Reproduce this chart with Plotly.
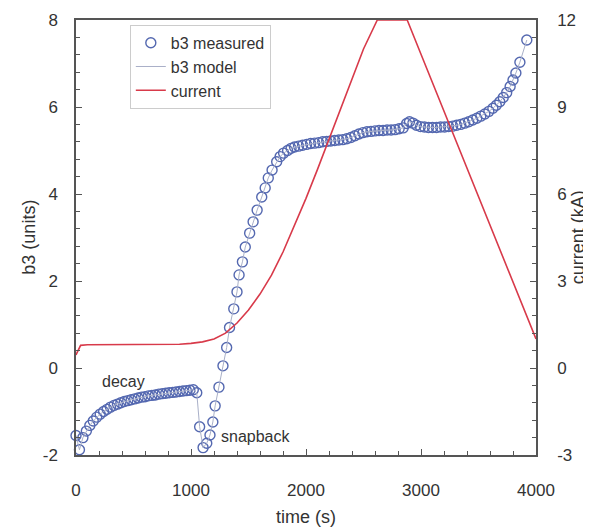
import plotly.graph_objects as go

# ---- data ----
t_meas = [0, 30, 60, 90, 120, 150, 180, 210, 240, 270, 300, 330, 360, 390, 420, 450, 480, 510,
          540, 570, 600, 630, 660, 690, 720, 750, 780, 810, 840, 870, 900, 930, 960, 990, 1020, 1050,
          1075, 1105, 1137, 1165, 1190, 1210, 1243, 1278, 1310, 1335, 1372, 1400, 1418, 1447, 1472,
          1510, 1540, 1575, 1615, 1645, 1672, 1705, 1745, 1775, 1805,
          1840, 1870, 1900, 1935, 1970, 2005, 2040, 2075, 2110, 2145, 2180, 2215, 2250, 2285, 2320,
          2355, 2390, 2425, 2460, 2495, 2530, 2565, 2600, 2635, 2670, 2705, 2740, 2775, 2810, 2845,
          2875, 2900, 2930, 2960, 2995, 3030, 3065, 3100, 3135, 3170, 3205, 3240, 3275, 3310, 3345,
          3380, 3415, 3450, 3485, 3520, 3555, 3590, 3625, 3655, 3685, 3715, 3745, 3775, 3800, 3825,
          3860, 3920]
b3_meas = [-1.55, -1.88, -1.6, -1.45, -1.32, -1.22, -1.13, -1.06, -1.0, -0.95, -0.9, -0.86, -0.83,
           -0.8, -0.77, -0.75, -0.73, -0.71, -0.69, -0.67, -0.66, -0.64, -0.63, -0.62, -0.6, -0.59,
           -0.58, -0.57, -0.56, -0.55, -0.54, -0.53, -0.52, -0.51, -0.5, -0.57,
           -1.35, -1.83, -1.73, -1.54, -1.24, -0.87, -0.44, 0.05, 0.47, 0.93, 1.36, 1.75, 2.14, 2.44,
           2.78, 3.1, 3.36, 3.63, 3.93, 4.14, 4.37, 4.55, 4.74, 4.86, 4.94,
           5.0, 5.05, 5.08, 5.1, 5.12, 5.14, 5.16, 5.17, 5.18, 5.2, 5.21, 5.22, 5.23, 5.24, 5.25,
           5.27, 5.3, 5.34, 5.38, 5.41, 5.43, 5.44, 5.45, 5.46, 5.46, 5.47, 5.47, 5.48, 5.5, 5.52,
           5.62, 5.66, 5.63, 5.58, 5.55, 5.54, 5.53, 5.53, 5.53, 5.54, 5.54, 5.55, 5.56, 5.58, 5.6,
           5.63, 5.66, 5.7, 5.74, 5.79, 5.84, 5.9, 5.97, 6.04, 6.12, 6.22, 6.33, 6.47, 6.62, 6.78,
           7.03, 7.54]
# model follows the measurement closely
t_model = t_meas
b3_model = b3_meas

t_cur = [0, 40, 100, 300, 500, 700, 900, 1000, 1100, 1200, 1300, 1400, 1500, 1600, 1700, 1800,
         1900, 2000, 2100, 2200, 2300, 2400, 2500, 2620, 2880, 3000, 3200, 3400, 3600, 3800, 4000]
current = [0.45, 0.78, 0.8, 0.8, 0.8, 0.8, 0.82, 0.85, 0.9, 1.0, 1.2, 1.55, 2.0, 2.55, 3.2, 4.0,
           4.9, 5.85, 6.85, 7.9, 8.95, 10.0, 11.0, 12.0, 12.0, 10.82, 8.86, 6.89, 4.93, 2.96, 1.0]

x_ticks = [0, 1000, 2000, 3000, 4000]
y_ticks = [-2, 0, 2, 4, 6, 8]
y2_ticks = [-3, 0, 3, 6, 9, 12]

FONT = "Liberation Sans, Arial, sans-serif"
AX = "#555555"
BLUE = "#5468b0"
RED = "#d83a4a"
TXT = "#333333"

fig = go.Figure()
fig.add_trace(go.Scatter(x=t_meas, y=b3_meas, mode="markers", name="b3 measured",
                         marker=dict(symbol="circle-open", size=10, color=BLUE,
                                     line=dict(width=1.4, color=BLUE)),
                         cliponaxis=False))
fig.add_trace(go.Scatter(x=t_model, y=b3_model, mode="lines", name="b3 model",
                         line=dict(color="#a9b0c8", width=1), cliponaxis=False))
fig.add_trace(go.Scatter(x=t_cur, y=current, mode="lines", name="current", yaxis="y2",
                         line=dict(color=RED, width=1.6), cliponaxis=False))

fig.add_annotation(x=410, y=-0.32, text="decay", showarrow=False,
                   font=dict(size=16, color=TXT, family=FONT))
fig.add_annotation(x=1560, y=-1.58, text="snapback", showarrow=False,
                   font=dict(size=16, color=TXT, family=FONT))

# axis titles placed as annotations in paper coordinates
fig.add_annotation(xref="paper", yref="paper", x=0.5, y=-0.142, yanchor="middle",
                   text="time (s)", showarrow=False, font=dict(size=18, color=TXT, family=FONT))
fig.add_annotation(xref="paper", yref="paper", x=-0.104, y=0.5, xanchor="center",
                   text="b3 (units)", textangle=-90, showarrow=False,
                   font=dict(size=18, color=TXT, family=FONT))
fig.add_annotation(xref="paper", yref="paper", x=1.091, y=0.5, xanchor="center",
                   text="current (kA)", textangle=-90, showarrow=False,
                   font=dict(size=18, color=TXT, family=FONT))

common = dict(showline=True, linecolor=AX, linewidth=1.5, ticks="inside", tickcolor=AX,
              ticklen=6, tickwidth=1, showgrid=False, zeroline=False, automargin=False,
              tickfont=dict(size=17, color=TXT, family=FONT))

# the page body adds an 8px offset, so the figure is drawn 8px smaller
fig.update_layout(
    width=583, height=520,
    margin=dict(l=68, r=55, t=12, b=73),
    paper_bgcolor="white", plot_bgcolor="white",
    font=dict(family=FONT, color=TXT),
    xaxis=dict(range=[0, 4000], tickvals=x_ticks, ticktext=[str(v) for v in x_ticks],
               mirror=True,
               minor=dict(ticks="inside", dtick=200, ticklen=4, tickcolor=AX),
               ticklabelstandoff=19, **common),
    yaxis=dict(range=[-2, 8], tickvals=y_ticks, ticktext=[str(v) for v in y_ticks],
               minor=dict(ticks="inside", dtick=0.4, ticklen=4, tickcolor=AX),
               ticklabelstandoff=13, **common),
    yaxis2=dict(range=[-3, 12], tickvals=y2_ticks, ticktext=[str(v) for v in y2_ticks],
                overlaying="y", side="right",
                minor=dict(ticks="inside", dtick=0.6, ticklen=4, tickcolor=AX),
                ticklabelstandoff=16, **common),
    legend=dict(x=0.117, y=0.989, xanchor="left", yanchor="top",
                bgcolor="white", bordercolor="#cccccc", borderwidth=1,
                font=dict(size=16, color=TXT, family=FONT),
                itemwidth=30, tracegroupgap=0),
    showlegend=True,
)

fig.write_html("out.html")
